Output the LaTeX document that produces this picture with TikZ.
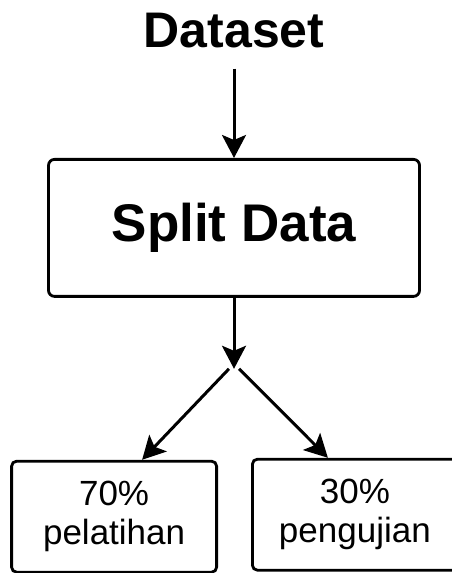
\documentclass[tikz,border=0pt]{standalone}
\usepackage{fontspec}
\setmainfont{Liberation Sans}
\usetikzlibrary{positioning,arrows.meta}

\begin{document}
\begin{tikzpicture}[
  x=1pt, y=1pt,
  title/.style={anchor=base, inner sep=0pt, font=\fontsize{50}{60}\selectfont\bfseries},
  splitbox/.style={draw, line width=2.8pt, rounded corners=6pt, minimum width=371pt, minimum height=137pt, font=\fontsize{53}{60}\selectfont\bfseries},
  part/.style={draw, line width=2.8pt, rounded corners=5pt, minimum width=205pt, minimum height=111pt, align=center, font=\fontsize{35}{39}\selectfont},
  arr/.style={-{Stealth[length=23pt, width=24pt, inset=5pt]}, line width=3pt}
]
\useasboundingbox (0,0) rectangle (452,573);
\clip (0,0) rectangle (452,573);
\node[title] (data) at (234,525) {Dataset};
\node[splitbox, below=110pt of data.base] (split) {Split Data};
\coordinate[below=71pt of split.south] (fork);
\node[part, below left=91pt and 16pt of fork] (train) {70\%\\pelatihan};
\node[part, below right=89pt and 17pt of fork] (test) {30\%\\pengujian};
\draw[arr, shorten <=20pt] (data.south) -- (split.north);
\draw[arr] (split) -- (fork);
\draw[arr] ([xshift=-5pt]fork) -- ([xshift=28pt]train.north);
\draw[arr] ([xshift=5pt]fork) -- ([xshift=-27pt]test.north);
\end{tikzpicture}
\end{document}
